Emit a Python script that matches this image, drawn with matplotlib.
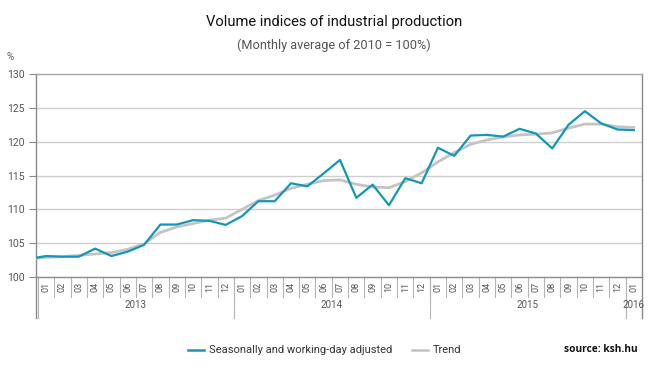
import matplotlib
matplotlib.use("Agg")
import matplotlib.pyplot as plt
import matplotlib.transforms as mtransforms
from matplotlib.lines import Line2D

# =========================
# DATA
# =========================
# first value is 2012-12 (only partly visible at the left edge)
months = ["12",
          "01", "02", "03", "04", "05", "06", "07", "08", "09", "10", "11", "12",
          "01", "02", "03", "04", "05", "06", "07", "08", "09", "10", "11", "12",
          "01", "02", "03", "04", "05", "06", "07", "08", "09", "10", "11", "12",
          "01"]
years = ["2013", "2014", "2015", "2016"]
year_months = [12, 12, 12, 1]

adjusted = [102.7,
            103.1, 103.0, 103.0, 104.2, 103.1, 103.75, 104.75, 107.75, 107.75, 108.4, 108.3, 107.7,
            109.0, 111.2, 111.2, 113.85, 113.4, 115.3, 117.3, 111.7, 113.65, 110.6, 114.6, 113.85,
            119.1, 117.9, 120.9, 121.0, 120.75, 121.9, 121.2, 119.0, 122.5, 124.5, 122.7, 121.8,
            121.7]
trend = [102.6,
         102.9, 103.0, 103.2, 103.4, 103.6, 104.1, 104.9, 106.6, 107.4, 107.9, 108.4, 108.7,
         110.0, 111.3, 112.1, 113.1, 113.7, 114.25, 114.35, 113.7, 113.3, 113.2, 114.1, 115.4,
         117.0, 118.4, 119.6, 120.25, 120.7, 121.0, 121.1, 121.3, 122.0, 122.6, 122.6, 122.2,
         122.1]

yticks = [100, 105, 110, 115, 120, 125, 130]

# =========================
# STYLE
# =========================
plt.rcParams["font.family"] = ["Roboto", "DejaVu Sans"]
blue = "#1497b4"
grey_line = "#c4c4c4"
axis_col = "#8a8a8a"
grid_col = "#cfcfcf"
text_col = "#555555"

fig = plt.figure(figsize=(6.5, 3.67), dpi=100)
ax = fig.add_axes([36 / 650, 1 - 277 / 367, 606 / 650, 203 / 367])

x = list(range(-1, len(months) - 1))  # -1 = 2012-12
ax.plot(x, trend, color=grey_line, lw=2.0, zorder=3)
ax.plot(x, adjusted, color=blue, lw=1.6, zorder=4)

ax.set_xlim(-0.62, 36.5)
ax.set_ylim(100, 130)
ax.set_yticks(yticks)
ax.set_yticklabels([str(t) for t in yticks], fontsize=7.5, color=text_col)
ax.tick_params(axis="y", length=5, width=0.8, color=axis_col, pad=3)
ax.set_xticks([])

for t in yticks[1:-1]:
    ax.axhline(t, color=grid_col, lw=1.0, zorder=1)

for s in ax.spines.values():
    s.set_color(axis_col)
    s.set_linewidth(1.0)
ax.spines["top"].set_color("#a8a8a8")

# category axis: month separators, month labels, year groups
trans = mtransforms.blended_transform_factory(ax.transData, ax.transAxes)
for i in range(36):
    ax.add_line(Line2D([i + 0.5, i + 0.5], [0, -0.1], transform=trans,
                       color="#b5b5b5", lw=0.8, clip_on=False))
for i, m in enumerate(months[1:]):
    ax.text(i, -0.05, m, transform=trans, rotation=90, ha="center", va="center",
            fontsize=6.5, color=text_col)

start = -0.5
for yr, n in zip(years, year_months):
    ax.add_line(Line2D([start, start], [0, -0.2], transform=trans,
                       color="#b5b5b5", lw=0.8, clip_on=False))
    ax.text(start + n / 2, -0.138, yr, transform=trans, ha="center", va="center",
            fontsize=7, color=text_col)
    start += n
ax.add_line(Line2D([1, 1], [0, -0.2], transform=ax.transAxes,
                   color=axis_col, lw=1.0, clip_on=False))
ax.add_line(Line2D([0, 0], [0, -0.2], transform=ax.transAxes,
                   color=axis_col, lw=1.0, clip_on=False))

# =========================
# TEXTS
# =========================
fig.text(334 / 650, 1 - 22 / 367, "Volume indices of industrial production",
         ha="center", va="center", fontsize=10.6, color="#111111")
fig.text(334 / 650, 1 - 45 / 367, "(Monthly average of 2010 = 100%)",
         ha="center", va="center", fontsize=9.2, color=text_col)
fig.text(10 / 650, 1 - 57 / 367, "%", ha="center", va="center",
         fontsize=7, color=text_col)

# legend
ly = 1 - 350 / 367
fig.add_artist(Line2D([188 / 650, 204 / 650], [ly, ly], color=blue, lw=1.8))
fig.text(209 / 650, ly, "Seasonally and working-day adjusted", ha="left", va="center",
         fontsize=8, color="#333333")
fig.add_artist(Line2D([412 / 650, 428 / 650], [ly, ly], color=grey_line, lw=1.8))
fig.text(433 / 650, ly, "Trend", ha="left", va="center", fontsize=8, color="#333333")
fig.text(638 / 650, ly, "source: ksh.hu", ha="right", va="center", fontsize=7.3,
         fontweight="bold", family=["Open Sans", "DejaVu Sans"], color="#111111")

fig.savefig("out.png", dpi=100, facecolor="white")
plt.close(fig)
